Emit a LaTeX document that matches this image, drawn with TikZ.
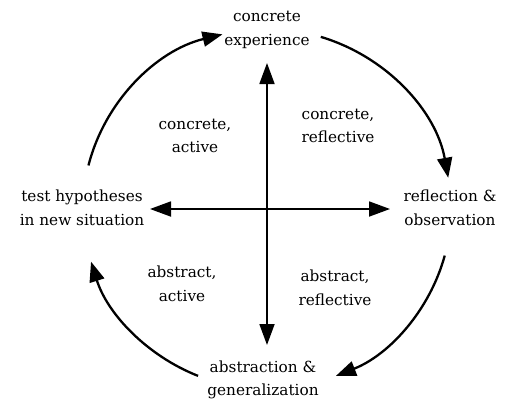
\documentclass[tikz,border=0pt]{standalone}
\usepackage{fontspec}
\setmainfont{DejaVu Serif}
\usetikzlibrary{arrows.meta}
\begin{document}
\begin{tikzpicture}[x=1pt,y=-1pt,
  lbl/.style={align=center,font=\fontsize{15.3}{23.5}\selectfont,inner sep=0pt},
  cyc/.style={line width=2.3pt,-{Triangle[length=20pt,width=15pt]}},
  axis/.style={line width=1.8pt,{Triangle[length=21pt,width=15pt]}-{Triangle[length=21pt,width=15pt]}}]
\useasboundingbox[fill=white] (0,0) rectangle (507,405);
\coordinate (c) at (267,209);
\node[lbl] (ce) at (267,30) {concrete\\experience};
\node[lbl] (th) at (82,208) {test hypotheses\\in new situation};
\node[lbl] (ro) at (450,208) {reflection \&\\observation};
\node[lbl] (ag) at (263,380) {abstraction \&\\generalization};
\node[lbl] (ca) at (195,136) {concrete,\\active};
\node[lbl] (cr) at (338,126) {concrete,\\reflective};
\node[lbl] (aa) at (182,284) {abstract,\\active};
\node[lbl] (ar) at (335,288) {abstract,\\reflective};
\coordinate (vt) at (267,63);
\coordinate (vb) at (267,345);
\coordinate (hl) at (150,209);
\coordinate (hr) at (390,209);
\draw[axis] (vt) -- (vb);
\draw[axis] (hl) -- (hr);
\draw[cyc] (c) ++(-166:184 and 180) arc[start angle=-166,end angle=-104,x radius=184,y radius=180];
\draw[cyc] (c) ++(-73:184 and 180) arc[start angle=-73,end angle=-10,x radius=184,y radius=180];
\draw[cyc] (c) ++(15:184 and 180) arc[start angle=15,end angle=68,x radius=184,y radius=180];
\draw[cyc] (c) ++(112:184 and 180) arc[start angle=112,end angle=163,x radius=184,y radius=180];
\end{tikzpicture}
\end{document}
